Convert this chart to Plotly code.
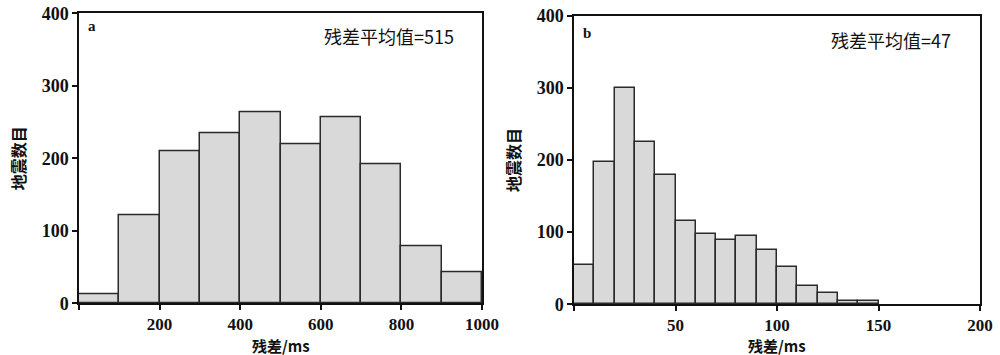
import plotly.graph_objects as go

# Panel a: residual bins (ms) and counts
a_bin_start = [0, 100, 200, 300, 400, 500, 600, 700, 800, 900]
a_bin_width = 100
a_counts = [12, 121, 210, 235, 264, 220, 256, 192, 78, 43]

# Panel b
b_bin_start = [0, 10, 20, 30, 40, 50, 60, 70, 80, 90, 100, 110, 120, 130, 140]
b_bin_width = 10
b_counts = [54, 198, 300, 225, 179, 116, 98, 89, 95, 75, 52, 26, 16, 4, 4]

a_ticks = [0, 200, 400, 600, 800, 1000]
a_ticktext = ["", "200", "400", "600", "800", "1000"]
b_ticks = [0, 50, 100, 150, 200]
b_ticktext = ["", "50", "100", "150", "200"]
y_ticks = [0, 100, 200, 300, 400]

FONT = "Liberation Serif, Noto Sans CJK SC, serif"
CJK = "Noto Sans CJK SC, Liberation Serif"

fig = go.Figure()
bar_style = dict(marker=dict(color="#d9d9d9", line=dict(color="#2a2a2a", width=1.5)), showlegend=False, hoverinfo="skip")
fig.add_trace(go.Bar(x=[s + a_bin_width / 2 for s in a_bin_start], y=a_counts, width=a_bin_width,
                     xaxis="x", yaxis="y", **bar_style))
fig.add_trace(go.Bar(x=[s + b_bin_width / 2 for s in b_bin_start], y=b_counts, width=b_bin_width,
                     xaxis="x2", yaxis="y2", **bar_style))

axis_common = dict(showline=True, mirror=True, linecolor="#111", linewidth=1.5, ticks="outside",
                   ticklen=5, tickwidth=1.5, tickcolor="#111", showgrid=False, zeroline=False,
                   automargin=False,
                   tickfont=dict(family=FONT, size=18, color="#111", weight="bold"))
xaxis_tickfont = dict(family=FONT, size=17, color="#111", weight="bold")
title_font = dict(family=CJK, size=16, color="#111", weight="bold")
xtitle_font = dict(family=CJK, size=15, color="#111", weight="bold")
note_font = dict(family=CJK, size=18, color="#111")

fig.update_layout(
    template="none",
    width=1000, height=355, margin=dict(l=0, r=0, t=0, b=0, autoexpand=False), autosize=False,
    plot_bgcolor="white", paper_bgcolor="white", bargap=0,
    xaxis=dict(domain=[0.079, 0.482], range=[0, 1000], tickvals=a_ticks, ticktext=a_ticktext,
               anchor="y", **axis_common),
    yaxis=dict(domain=[0.1455, 0.9625], range=[0, 400], tickvals=y_ticks,
               title=dict(text="地震数目", font=title_font, standoff=12),
               anchor="x", **axis_common),
    xaxis2=dict(domain=[0.574, 0.98], range=[0, 200], tickvals=b_ticks, ticktext=b_ticktext,
                anchor="y2", **axis_common),
    yaxis2=dict(domain=[0.143, 0.955], range=[0, 400], tickvals=y_ticks,
                title=dict(text="地震数目", font=title_font, standoff=12),
                anchor="x2", **axis_common),
)
fig.update_xaxes(tickfont=xaxis_tickfont)

for xr, yr, ys in (("x", "y", -30), ("x2", "y2", -29)):
    fig.add_annotation(xref=f"{xr} domain", yref=f"{yr} domain", x=0.5, y=0, text="残差/ms",
                       showarrow=False, xanchor="center", yanchor="top", yshift=ys, font=xtitle_font)

fig.add_annotation(xref="x domain", yref="y domain", x=0, y=1, xshift=7, yshift=-13, text="<b>a</b>",
                   showarrow=False, xanchor="left", yanchor="middle", font=dict(family=FONT, size=15, color="#111"))
fig.add_annotation(xref="x domain", yref="y domain", x=1, y=1, xshift=-26, yshift=-23, text="残差平均值=515",
                   showarrow=False, xanchor="right", yanchor="middle", font=note_font)
fig.add_annotation(xref="x2 domain", yref="y2 domain", x=0, y=1, xshift=7, yshift=-17, text="<b>b</b>",
                   showarrow=False, xanchor="left", yanchor="middle", font=dict(family=FONT, size=15, color="#111"))
fig.add_annotation(xref="x2 domain", yref="y2 domain", x=1, y=1, xshift=-27, yshift=-24, text="残差平均值=47",
                   showarrow=False, xanchor="right", yanchor="middle", font=note_font)

post = "document.body.style.margin='0';document.body.style.overflow='hidden';"
fig.write_html("out.html", post_script=post, config={"displayModeBar": False, "responsive": False})
